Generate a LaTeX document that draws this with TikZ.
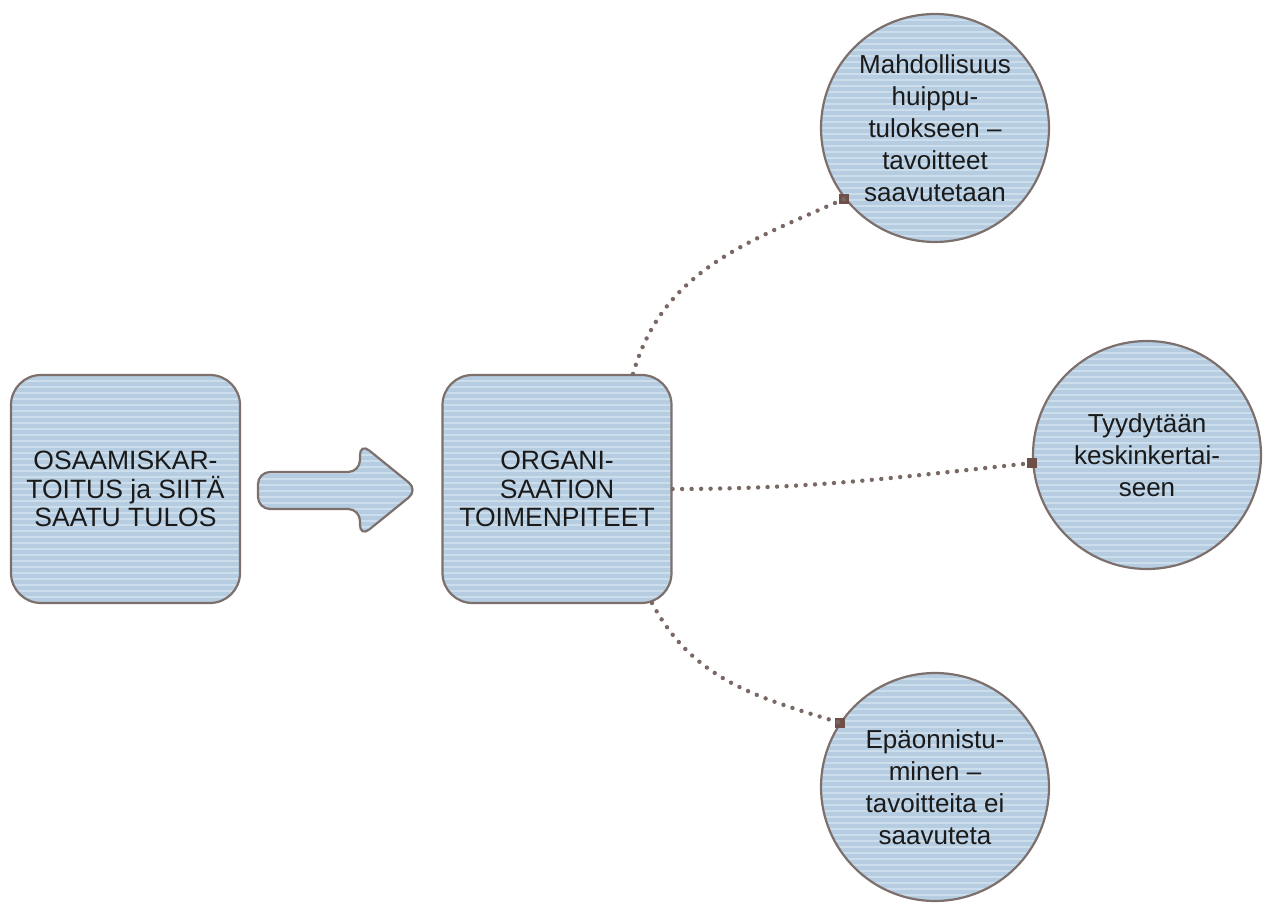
\documentclass[tikz,border=0pt]{standalone}
\usepackage{fontspec}
\setmainfont{Liberation Sans}
\definecolor{edgec}{HTML}{7D706C}
\definecolor{fillc}{HTML}{B5CCE1}
\definecolor{stripec}{HTML}{CCDDEC}
\definecolor{dotc}{HTML}{7A6864}
\definecolor{sqc}{HTML}{6E5048}
\definecolor{txtc}{HTML}{1A1A1A}
\tikzset{
  striped/.style={fill=fillc, draw=edgec, line width=2.2pt,
    path picture={
      \foreach \k in {0,...,160}{
        \draw[stripec, line width=2pt]
          ([yshift=-\k*6pt]path picture bounding box.north west) --
          ([yshift=-\k*6pt]path picture bounding box.north east);
      }
    }},
  boxnode/.style={striped, rectangle, rounded corners=30pt,
    minimum width=229pt, minimum height=228pt, align=center,
    text=txtc, font=\fontsize{26.5}{28.5}\selectfont},
  circnode/.style={striped, circle, minimum size=228pt, inner sep=0pt,
    align=center, text=txtc, font=\fontsize{26}{32}\selectfont},
  dotline/.style={dotc, line width=4.4pt, line cap=round,
    dash pattern=on 0pt off 9.5pt},
  endsq/.style={fill=sqc, draw=none, minimum size=10pt, inner sep=0pt, rectangle}
}
\begin{document}
\begin{tikzpicture}[x=1pt,y=1pt]
\useasboundingbox (0,0) rectangle (1269,913);
\node[boxnode] (left) at (125.5,424) {OSAAMISKAR-\\TOITUS ja SIITÄ\\SAATU TULOS};
\node[boxnode] (mid) at (557,424) {ORGANI-\\SAATION\\TOIMENPITEET};
\node[circnode] (top) at (935,785) {Mahdollisuus\\huippu-\\tulokseen –\\tavoitteet\\saavutetaan};
\node[circnode] (right) at (1147,458) {Tyydytään\\keskinkertai-\\seen};
\node[circnode] (bot) at (935,126) {Epäonnistu-\\minen –\\tavoitteita ei\\saavuteta};
% block arrow
\path[striped, rounded corners=12pt] (258,441) -- (360,441) -- (360,470) -- (418,423) -- (360,376) -- (360,404) -- (258,404) -- cycle;
% connector endpoints
\coordinate (s1) at ([xshift=76pt]mid.north);
\coordinate (s3) at (652,310);
\node[endsq] (e1) at (top.218.6) {};
\node[endsq] (e2) at (right.184) {};
\node[endsq] (e3) at (bot.146.5) {};
\draw[dotline] (s1) to[out=74,in=204] (e1.center);
\draw[dotline] (mid.east) to[out=0,in=186] (e2.center);
\draw[dotline] (s3) to[out=-62,in=163] (e3.center);
\end{tikzpicture}
\end{document}
